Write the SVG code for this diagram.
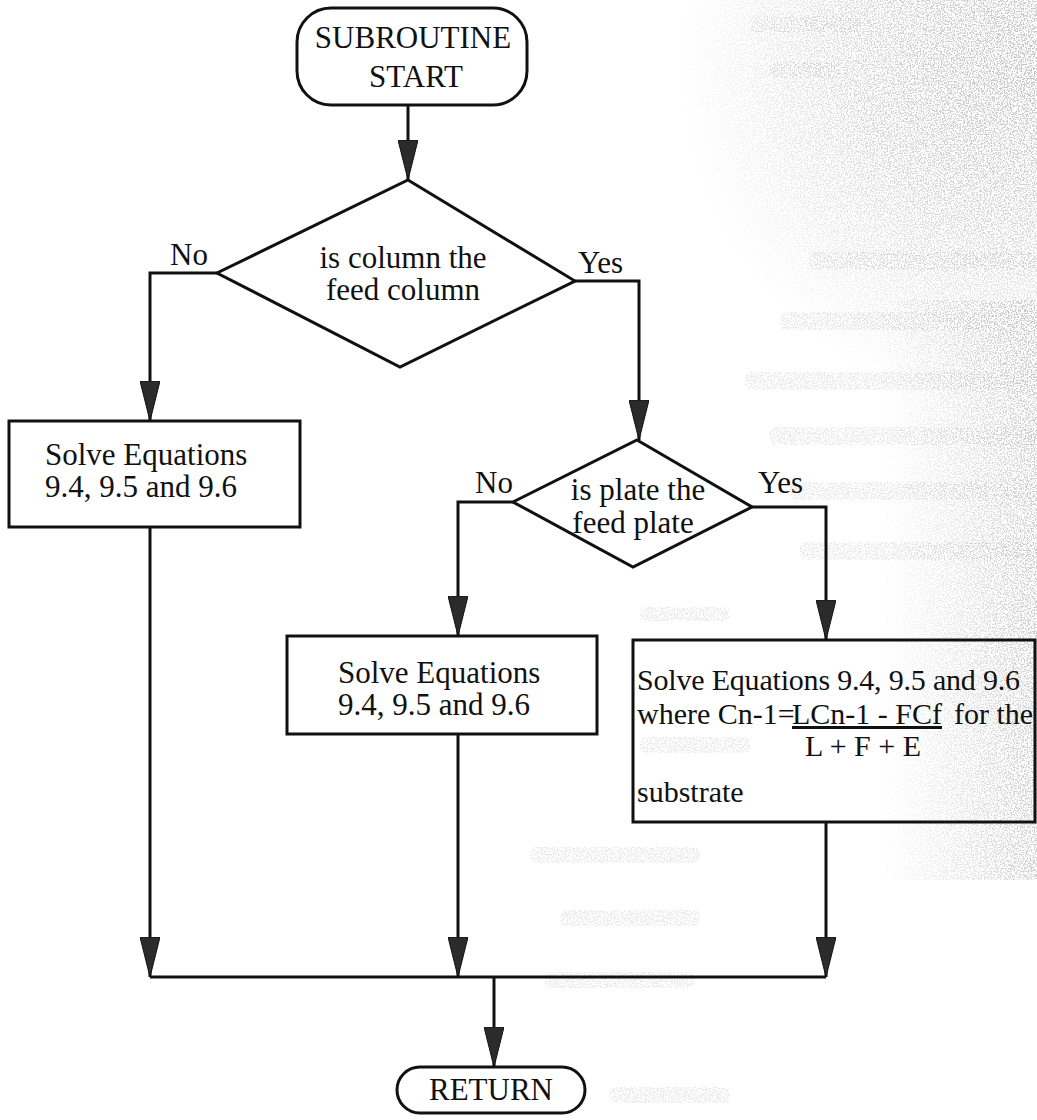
<svg xmlns="http://www.w3.org/2000/svg" width="1037" height="1120" viewBox="0 0 1037 1120">
  <style>
    .shape { fill: none; stroke: #111; stroke-width: 3; }
    .conn { fill: none; stroke: #111; stroke-width: 3; }
    text { font-family: "Liberation Serif", "Times New Roman", serif; font-size: 31px; fill: #111; }
    .mid { text-anchor: middle; }
    .sm { font-size: 30px; }
    .band { fill: #000; }
  </style>
  <defs>
    <marker id="arrow" viewBox="0 0 40 20" refX="40" refY="10" markerWidth="40" markerHeight="20" markerUnits="userSpaceOnUse" orient="auto">
      <path d="M0,0 L40,10 L0,20 Z" fill="#2b2b2b" stroke="#111" stroke-width="1"/>
    </marker>
    <radialGradient id="hazeCorner" cx="1037" cy="60" r="360" gradientUnits="userSpaceOnUse">
      <stop offset="0" stop-color="#000" stop-opacity="0.85"/>
      <stop offset="0.5" stop-color="#000" stop-opacity="0.55"/>
      <stop offset="1" stop-color="#000" stop-opacity="0"/>
    </radialGradient>
    <linearGradient id="hazeEdge" x1="1037" y1="0" x2="880" y2="0" gradientUnits="userSpaceOnUse">
      <stop offset="0" stop-color="#000" stop-opacity="0.7"/>
      <stop offset="1" stop-color="#000" stop-opacity="0"/>
    </linearGradient>
    <filter id="grain" x="0" y="0" width="100%" height="100%" filterUnits="userSpaceOnUse">
      <feTurbulence type="fractalNoise" baseFrequency="0.7" numOctaves="2" seed="7" result="n"/>
      <feColorMatrix in="n" type="matrix" values="0 0 0 0 0.5  0 0 0 0 0.5  0 0 0 0 0.5  0 0 0 9 -4.3" result="dots"/>
      <feComposite in="dots" in2="SourceGraphic" operator="in"/>
    </filter>
  </defs>

  <rect width="1037" height="1120" fill="#fff"/>

  <!-- speckled print-through along the right margin -->
  <g id="haze" filter="url(#grain)">
    <rect x="640" y="0" width="397" height="440" fill="url(#hazeCorner)"/>
    <rect x="880" y="300" width="157" height="580" fill="url(#hazeEdge)"/>
    <g class="band" opacity="0.3">
      <rect x="750" y="16" width="110" height="16" rx="6"/>
      <rect x="770" y="62" width="70" height="16" rx="6"/>
      <rect x="810" y="252" width="227" height="18" rx="6"/>
      <rect x="780" y="312" width="257" height="18" rx="6"/>
      <rect x="745" y="372" width="292" height="18" rx="6"/>
      <rect x="770" y="427" width="267" height="18" rx="6"/>
      <rect x="790" y="482" width="247" height="18" rx="6"/>
      <rect x="800" y="542" width="237" height="18" rx="6"/>
      <rect x="640" y="607" width="90" height="14" rx="6"/>
      <rect x="640" y="737" width="110" height="16" rx="6"/>
      <rect x="530" y="847" width="170" height="16" rx="6"/>
      <rect x="560" y="910" width="140" height="16" rx="6"/>
      <rect x="545" y="972" width="150" height="16" rx="6"/>
      <rect x="610" y="1087" width="120" height="16" rx="6"/>
    </g>
  </g>

  <g id="connectors">
    <path class="conn" d="M408,105 V180" marker-end="url(#arrow)"/>
    <path class="conn" d="M217,273 H150 V421" marker-end="url(#arrow)"/>
    <path class="conn" d="M575,281 H639 V440" marker-end="url(#arrow)"/>
    <path class="conn" d="M513,502 H458 V636" marker-end="url(#arrow)"/>
    <path class="conn" d="M752,507 H826 V640" marker-end="url(#arrow)"/>
    <path class="conn" d="M150,527 V977" marker-end="url(#arrow)"/>
    <path class="conn" d="M458,734 V977" marker-end="url(#arrow)"/>
    <path class="conn" d="M826,822 V977" marker-end="url(#arrow)"/>
    <path class="conn" d="M150,977 H826"/>
    <path class="conn" d="M494,977 V1067" marker-end="url(#arrow)"/>
    <text x="170" y="265">No</text>
    <text x="578" y="273">Yes</text>
    <text x="475" y="493">No</text>
    <text x="758" y="493">Yes</text>
  </g>

  <g id="start">
    <rect class="shape" x="297" y="8" width="230" height="97" rx="34" fill="#fff"/>
    <text class="mid" x="413" y="48">SUBROUTINE</text>
    <text class="mid" x="416" y="87">START</text>
  </g>

  <g id="decision-column">
    <polygon class="shape" points="408,180 575,281 400,367 217,273"/>
    <text class="mid" x="403" y="268">is column the</text>
    <text class="mid" x="403" y="300">feed column</text>
  </g>

  <g id="solve-outer">
    <rect class="shape" x="9" y="421" width="291" height="106"/>
    <text x="45" y="465">Solve Equations</text>
    <text x="45" y="497">9.4, 9.5 and 9.6</text>
  </g>

  <g id="decision-plate">
    <polygon class="shape" points="637,440 752,507 633,567 513,502"/>
    <text class="mid" x="638" y="500">is plate the</text>
    <text class="mid" x="633" y="533">feed plate</text>
  </g>

  <g id="solve-inner">
    <rect class="shape" x="287" y="636" width="310" height="98"/>
    <text x="338" y="683">Solve Equations</text>
    <text x="338" y="715">9.4, 9.5 and 9.6</text>
  </g>

  <g id="solve-feed">
    <rect class="shape" x="633" y="640" width="402" height="182"/>
    <text class="sm" x="637" y="690" textLength="383">Solve Equations 9.4, 9.5 and 9.6</text>
    <text class="sm" x="637" y="724">where Cn-1=<tspan x="792" text-decoration="underline">LCn-1 - FCf</tspan><tspan x="954">for the</tspan></text>
    <text class="sm mid" x="863" y="756">L + F + E</text>
    <text class="sm" x="637" y="802">substrate</text>
  </g>

  <g id="return">
    <rect class="shape" x="397" y="1067" width="188" height="46" rx="23"/>
    <text class="mid" x="491" y="1100">RETURN</text>
  </g>
</svg>
